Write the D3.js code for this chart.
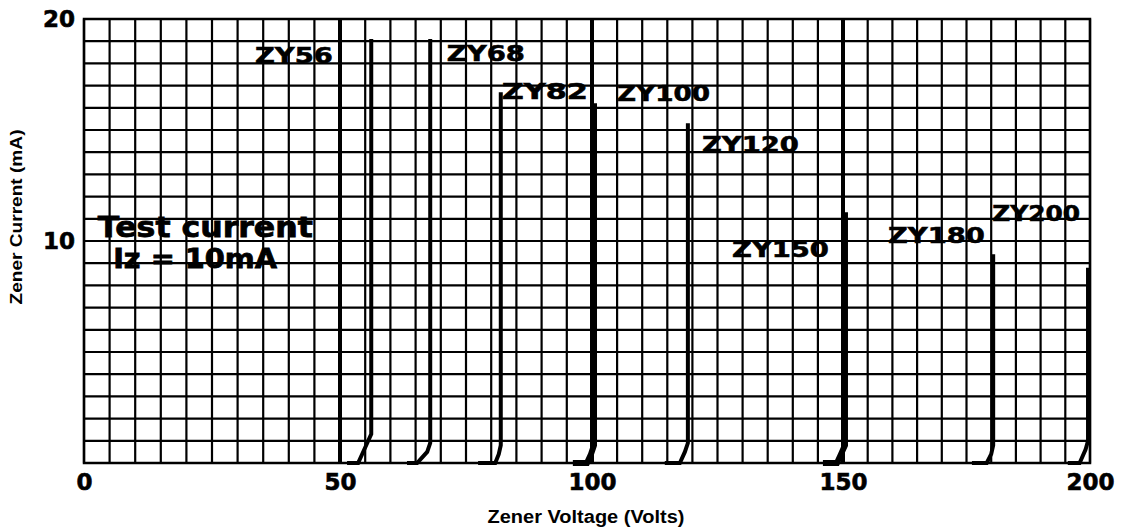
<!DOCTYPE html>
<html>
<head>
<meta charset="utf-8">
<script src="https://cdn.jsdelivr.net/npm/d3@7"></script>
<style>
    body { margin: 0; background: #fff; }
    svg { display: block; }
</style>
</head>
<body>
<div id="chart"></div>
<script>
// axis ticks
const voltTicks = [0, 50, 100, 150, 200];
const currentTicks = [10, 20];

// zener curves: leakage foot, knee, breakdown, top of the trace
const diodeNames = ["ZY56", "ZY68", "ZY82", "ZY100", "ZY120", "ZY150", "ZY180", "ZY200"];
const leakStartV = [51.4, 63.3, 77.4, 96.2, 114.5, 146.0, 176.1, 195.5];
const kneeV = [53.6, 65.3, 80.8, 99.0, 117.5, 148.8, 179.1, 197.9];
const stepV = [55.4, 67.3, 81.5, 99.8, 118.5, 149.6, 180.0, 199.1];
const stepI = [0.9, 0.5, 0.4, 0.4, 0.5, 0.4, 0.4, 0.6];
const breakdownV = [56.2, 67.9, 81.9, 100.4, 119.1, 150.4, 180.4, 199.6];
const topCurrent = [19.1, 19.1, 16.7, 16.2, 15.3, 11.3, 9.4, 8.8];

// where each name sits (volts from / to, mA baseline)
const labelFromV = [33.4, 71.2, 82.1, 105.0, 121.9, 127.9, 159.1, 180.2];
const labelToV = [48.6, 86.7, 99.2, 123.5, 141.2, 147.2, 178.7, 198.0];
const labelI = [18.0, 18.1, 16.4, 16.3, 14.0, 9.3, 9.9, 10.9];

// note text
const noteLines = ["Test current", "Iz = 10mA"];
const noteFromV = [2.7, 5.7];
const noteToV = [44.7, 37.7];
const noteI = [10.2, 8.8];

const width = 1135, height = 528;
const margin = { left: 84, right: 1090, top: 19, bottom: 463 };

const svg = d3.select("#chart").append("svg")
    .attr("width", width)
    .attr("height", height);

// the scanned grid is a little uneven, so map each 50 V block separately
const x = d3.scaleLinear()
    .domain(voltTicks)
    .range([margin.left, 340, 592, 843, margin.right]);
const y = d3.scaleLinear()
    .domain([0, 20])
    .range([margin.bottom, margin.top]);

const bitmapFont = "'DejaVu Sans', 'Liberation Sans', sans-serif";
const narrowFont = "'Liberation Sans Narrow', 'Liberation Sans', Arial, sans-serif";

// grid
const grid = svg.append("g");
grid.selectAll("line.v")
    .data(d3.range(0, 201, 5))
    .join("line")
    .attr("class", "v")
    .attr("x1", d => x(d)).attr("x2", d => x(d))
    .attr("y1", margin.top).attr("y2", margin.bottom)
    .attr("stroke", "#000")
    .attr("stroke-width", d => (d % 50 === 0 && d > 0 && d < 200) ? 4 : 2.2);

grid.selectAll("line.h")
    .data(d3.range(0, 21, 1))
    .join("line")
    .attr("class", "h")
    .attr("x1", margin.left).attr("x2", margin.right)
    .attr("y1", d => y(d)).attr("y2", d => y(d))
    .attr("stroke", "#000")
    .attr("stroke-width", 2.2);

grid.append("rect")
    .attr("x", margin.left).attr("y", margin.top)
    .attr("width", margin.right - margin.left).attr("height", margin.bottom - margin.top)
    .attr("fill", "none")
    .attr("stroke", "#000")
    .attr("stroke-width", 2.5);

// curves
const line = d3.line()
    .x(d => x(d[0]))
    .y(d => y(d[1]));

const curves = diodeNames.map((name, i) => ({
    name: name,
    points: [
        [leakStartV[i], 0],
        [kneeV[i], 0],
        [stepV[i], stepI[i]],
        [breakdownV[i], stepI[i] + 0.4],
        [breakdownV[i], topCurrent[i]]
    ]
}));

svg.append("g").selectAll("path")
    .data(curves)
    .join("path")
    .attr("d", d => line(d.points))
    .attr("fill", "none")
    .attr("stroke", "#000")
    .attr("stroke-width", d => (d.name === "ZY100" || d.name === "ZY150") ? 6 : 4)
    .attr("stroke-linejoin", "miter");

// curve names
svg.append("g").selectAll("text")
    .data(diodeNames)
    .join("text")
    .attr("x", (d, i) => x(labelFromV[i]))
    .attr("y", (d, i) => y(labelI[i]))
    .attr("textLength", (d, i) => x(labelToV[i]) - x(labelFromV[i]))
    .attr("lengthAdjust", "spacingAndGlyphs")
    .attr("font-family", bitmapFont)
    .attr("font-weight", "bold")
    .attr("font-size", 22)
    .attr("stroke", "#000")
    .attr("stroke-width", 0.6)
    .text(d => d);

// test current note
svg.append("g").selectAll("text")
    .data(noteLines)
    .join("text")
    .attr("x", (d, i) => x(noteFromV[i]))
    .attr("y", (d, i) => y(noteI[i]))
    .attr("textLength", (d, i) => x(noteToV[i]) - x(noteFromV[i]))
    .attr("lengthAdjust", "spacingAndGlyphs")
    .attr("font-family", bitmapFont)
    .attr("font-weight", "bold")
    .attr("font-size", (d, i) => i === 0 ? 29 : 26)
    .attr("stroke", "#000")
    .attr("stroke-width", 0.8)
    .text(d => d);

// axes
const xAxis = svg.append("g")
    .attr("transform", `translate(0,${margin.bottom})`)
    .call(d3.axisBottom(x).tickValues(voltTicks).tickSize(0).tickFormat(d3.format("d")));
xAxis.select(".domain").remove();
xAxis.selectAll("text")
    .attr("dy", null)
    .attr("y", 27)
    .attr("fill", "#000")
    .attr("font-family", bitmapFont)
    .attr("font-weight", "bold")
    .attr("font-size", 23)
    .attr("stroke", "#000")
    .attr("stroke-width", 0.6);

const yAxis = svg.append("g")
    .attr("transform", `translate(${margin.left},0)`)
    .call(d3.axisLeft(y).tickValues(currentTicks).tickSize(0).tickPadding(9));
yAxis.select(".domain").remove();
yAxis.selectAll("text")
    .attr("fill", "#000")
    .attr("font-family", bitmapFont)
    .attr("font-weight", "bold")
    .attr("font-size", 23)
    .attr("stroke", "#000")
    .attr("stroke-width", 0.6);

// axis titles
svg.append("text")
    .attr("x", 586)
    .attr("y", 523)
    .attr("text-anchor", "middle")
    .attr("textLength", 197)
    .attr("lengthAdjust", "spacingAndGlyphs")
    .attr("font-family", narrowFont)
    .attr("font-weight", "bold")
    .attr("font-size", 18)
    .text("Zener Voltage (Volts)");

svg.append("text")
    .attr("transform", "translate(22,217) rotate(-90)")
    .attr("text-anchor", "middle")
    .attr("textLength", 175)
    .attr("lengthAdjust", "spacingAndGlyphs")
    .attr("font-family", narrowFont)
    .attr("font-weight", "bold")
    .attr("font-size", 17)
    .text("Zener Current (mA)");
</script>
</body>
</html>
